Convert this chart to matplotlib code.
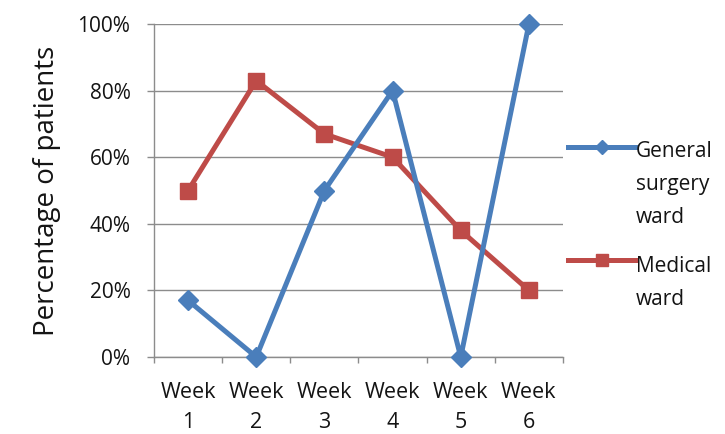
import matplotlib
matplotlib.use("Agg")
import matplotlib.pyplot as plt
from matplotlib.lines import Line2D
from matplotlib.ticker import FixedLocator, PercentFormatter

categories = ["Week\n1", "Week\n2", "Week\n3", "Week\n4", "Week\n5", "Week\n6"]
general_surgery = [17, 0, 50, 80, 0, 100]
medical = [50, 83, 67, 60, 38, 20]
series_labels = ["General\nsurgery\nward", "Medical\nward"]
yticks = [0, 20, 40, 60, 80, 100]

plt.rcParams['font.family'] = ['Open Sans', 'DejaVu Sans']

W, H = 725, 434
fig = plt.figure(figsize=(W/100, H/100), dpi=100)
ax = fig.add_axes([154/W, 1-357/H, (563-154)/W, (357-24)/H])

x = list(range(len(categories)))
blue = "#4A7EBB"
red = "#BE4B48"
txt = "#141414"
gray = "#8C8C8C"
ax.plot(x, medical, color=red, lw=3.6, marker="s", ms=11.5, zorder=3, clip_on=False)
ax.plot(x, general_surgery, color=blue, lw=3.6, marker="D", ms=10, zorder=4, clip_on=False)

ax.set_xlim(-0.5, len(categories)-0.5)
ax.set_ylim(0, 100)
ax.set_yticks(yticks)
ax.yaxis.set_major_formatter(PercentFormatter(decimals=0))
ax.grid(axis="y", color=gray, lw=1)
ax.set_axisbelow(True)

ax.set_xticks(x)
ax.set_xticklabels(categories, fontsize=15.5, color=txt, linespacing=1.55)
ax.xaxis.set_minor_locator(FixedLocator([i - 0.5 for i in range(len(categories)+1)]))
ax.tick_params(axis="x", which="major", length=0, pad=18)
ax.tick_params(axis="x", which="minor", length=4.5, color=gray, width=1)
ax.tick_params(axis="y", length=5, color=gray, width=1, labelsize=15, labelcolor=txt, pad=12)

for s in ["top", "right"]:
    ax.spines[s].set_visible(False)
for s in ["left", "bottom"]:
    ax.spines[s].set_color(gray)
    ax.spines[s].set_linewidth(1)

ax.set_ylabel("Percentage of patients", fontsize=20, color=txt, labelpad=12)

# manual legend (handle aligned with first text line)
leg_items = [(series_labels[0], blue, "D", 7.5, 147, 157),
             (series_labels[1], red, "s", 8.5, 260, 272)]
for lab, col, mk, ms, ypx, base in leg_items:
    yf = 1 - ypx/H
    fig.add_artist(Line2D([568/W, 602/W, 635/W], [yf, yf, yf], color=col, lw=3.6,
                          marker=mk, ms=ms, markevery=[1], transform=fig.transFigure))
    for i, line in enumerate(lab.split("\n")):
        fig.text(636/W, 1 - (base + 33*i)/H, line, fontsize=15, color=txt,
                 va="baseline", ha="left")

fig.savefig("out.png", dpi=100)
